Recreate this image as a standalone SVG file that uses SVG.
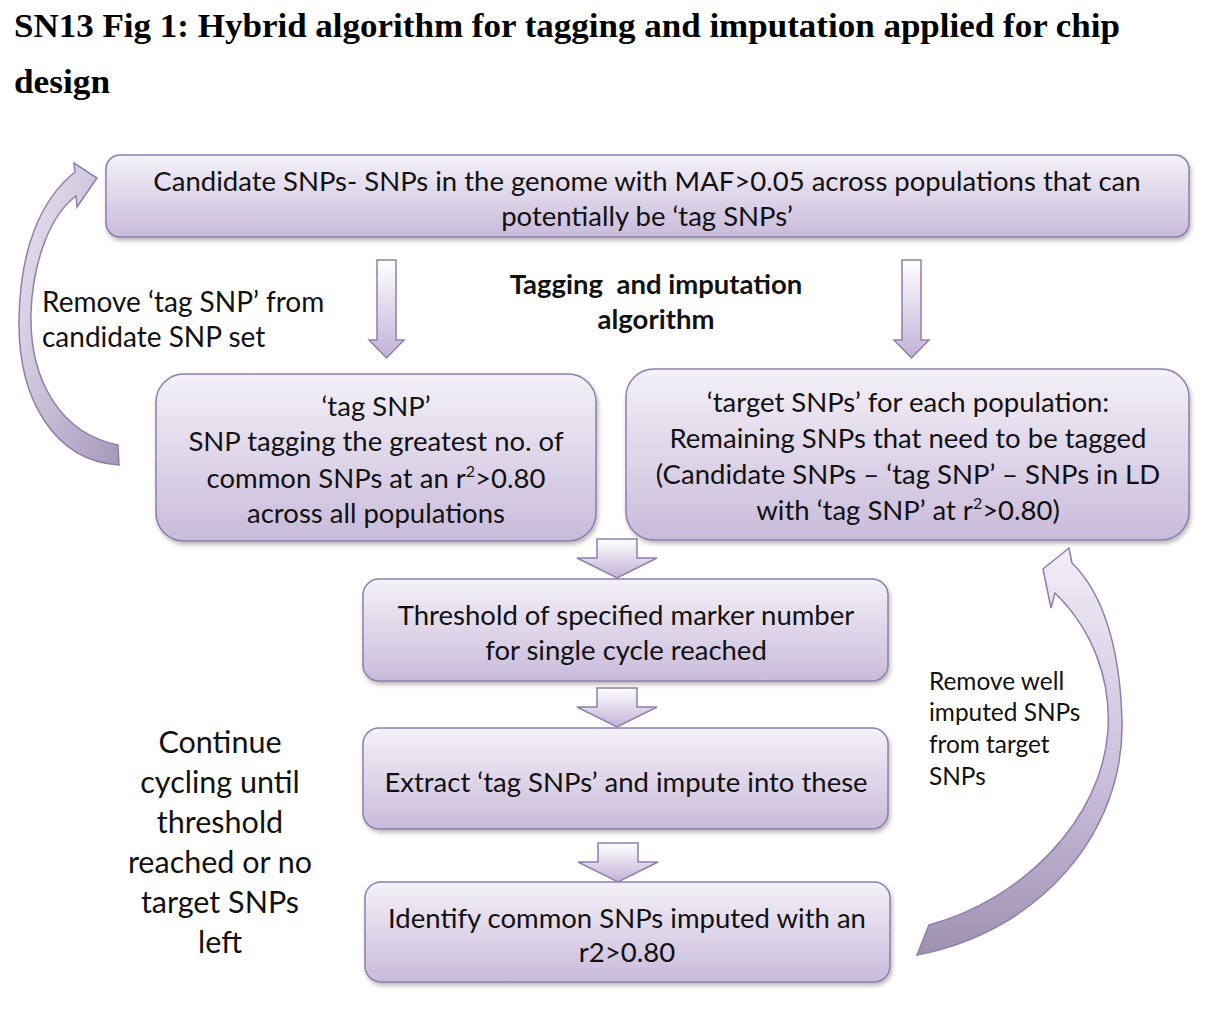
<svg xmlns="http://www.w3.org/2000/svg" width="1212" height="1018" viewBox="0 0 1212 1018">
<defs>
<linearGradient id="boxg" x1="0" y1="0" x2="0" y2="1">
<stop offset="0" stop-color="#f4f1f8"/>
<stop offset="1" stop-color="#c9bbdb"/>
</linearGradient>
<linearGradient id="arrg" x1="0" y1="0" x2="0" y2="1">
<stop offset="0" stop-color="#ffffff"/>
<stop offset="1" stop-color="#c2b2d6"/>
</linearGradient>
<linearGradient id="curvL" x1="0" y1="0" x2="1" y2="1">
<stop offset="0" stop-color="#ede7f4"/>
<stop offset="1" stop-color="#a699bb"/>
</linearGradient>
<linearGradient id="curvR" x1="0" y1="0" x2="0" y2="1">
<stop offset="0" stop-color="#f2eef7"/>
<stop offset="0.6" stop-color="#c8bbd9"/>
<stop offset="1" stop-color="#9e92b0"/>
</linearGradient>
<filter id="sh" x="-5%" y="-10%" width="110%" height="130%">
<feDropShadow dx="1.5" dy="3" stdDeviation="2" flood-color="#666" flood-opacity="0.45"/>
</filter>
</defs>
<style>
.box{fill:url(#boxg);stroke:#8f7fae;stroke-width:1.5;filter:url(#sh)}
.arr{fill:url(#arrg);stroke:#8f7fae;stroke-width:1.5}
.t{font-family:Lato,"Open Sans",sans-serif;font-size:27.5px;fill:#111;text-anchor:middle}
.tl{font-family:Lato,"Open Sans",sans-serif;font-size:28px;fill:#111}
.c{font-family:Lato,"Open Sans",sans-serif;font-size:30.5px;fill:#111;text-anchor:middle}
.w{font-family:Lato,"Open Sans",sans-serif;font-size:24.4px;fill:#111}
.title{font-family:"Liberation Serif","DejaVu Serif",serif;font-weight:bold;font-size:33px;fill:#000}
</style>
<rect width="1212" height="1018" fill="#fff"/>
<text class="title" x="14" y="37" textLength="1106" lengthAdjust="spacingAndGlyphs">SN13 Fig 1: Hybrid algorithm for tagging and imputation applied for chip</text>
<text class="title" x="14" y="93" textLength="96" lengthAdjust="spacingAndGlyphs">design</text>

<g id="connectors">
<path class="arr" d="M377,260 H396 V340 H404 L386.5,358 L369,340 H377 Z"/>
<path class="arr" d="M902,260 H921 V340 H929 L911.5,358 L894,340 H902 Z"/>
<path class="arr" d="M597,539 H637 V558 H657 L617,578 L577,558 H597 Z"/>
<path class="arr" d="M597,688 H637 V707 H657 L617,727 L577,707 H597 Z"/>
<path class="arr" d="M598,843 H638 V862 H658 L618,882 L578,862 H598 Z"/>
<path fill="url(#curvL)" stroke="#8f7fae" stroke-width="1.5" d="M75,172 L74,163 L97,178 L77,207 L76,196 C50,215 33,262 31,312 C29,382 62,434 118,445 L119,465 C55,461 18,400 19,320 C20,250 40,200 75,172 Z"/>
<path fill="url(#curvR)" stroke="#8f7fae" stroke-width="1.5" d="M1072,563 L1069,548 L1043,569 L1051,608 L1055,593 C1093,630 1111,680 1108,730 C1102,820 1022,900 929,925 L917,955 C1040,932 1125,832 1122,720 C1120,650 1104,594 1072,563 Z"/>
</g>

<g id="label-tagging">
<text class="t" x="656" y="294" font-weight="bold" style="white-space:pre" xml:space="preserve">Tagging  and imputation</text>
<text class="t" x="656" y="329" font-weight="bold">algorithm</text>
</g>
<g id="label-remove-tag">
<text class="tl" x="42" y="312">Remove ‘tag SNP’ from</text>
<text class="tl" x="42" y="347">candidate SNP set</text>
</g>
<g id="label-continue">
<text class="c" x="220" y="753">Continue</text>
<text class="c" x="220" y="793">cycling until</text>
<text class="c" x="220" y="833">threshold</text>
<text class="c" x="220" y="873">reached or no</text>
<text class="c" x="220" y="913">target SNPs</text>
<text class="c" x="220" y="953">left</text>
</g>
<g id="label-remove-well">
<text class="w" x="929" y="690">Remove well</text>
<text class="w" x="929" y="721">imputed SNPs</text>
<text class="w" x="929" y="753">from target</text>
<text class="w" x="929" y="785">SNPs</text>
</g>

<g id="node-candidate">
<rect class="box" x="106" y="155" width="1083" height="82" rx="14"/>
<text class="t" x="647" y="191">Candidate SNPs- SNPs in the genome with MAF&gt;0.05 across populations that can</text>
<text class="t" x="647" y="226">potentially be ‘tag SNPs’</text>
</g>
<g id="node-tagsnp">
<rect class="box" x="156" y="374" width="440" height="167" rx="28"/>
<text class="t" x="376" y="416">‘tag SNP’</text>
<text class="t" x="376" y="451">SNP tagging the greatest no. of</text>
<text class="t" x="376" y="488">common SNPs at an r<tspan font-size="16" dy="-11">2</tspan><tspan dy="11">&gt;0.80</tspan></text>
<text class="t" x="376" y="523">across all populations</text>
</g>
<g id="node-target">
<rect class="box" x="626" y="369" width="563" height="171" rx="28"/>
<text class="t" x="908" y="412">‘target SNPs’ for each population:</text>
<text class="t" x="908" y="448">Remaining SNPs that need to be tagged</text>
<text class="t" x="908" y="484">(Candidate SNPs – ‘tag SNP’ – SNPs in LD</text>
<text class="t" x="908" y="520">with ‘tag SNP’ at r<tspan font-size="16" dy="-11">2</tspan><tspan dy="11">&gt;0.80)</tspan></text>
</g>
<g id="node-threshold">
<rect class="box" x="363" y="579" width="525" height="102" rx="16"/>
<text class="t" x="626" y="625">Threshold of specified marker number</text>
<text class="t" x="626" y="660">for single cycle reached</text>
</g>
<g id="node-extract">
<rect class="box" x="363" y="728" width="525" height="101" rx="16"/>
<text class="t" x="626" y="792">Extract ‘tag SNPs’ and impute into these</text>
</g>
<g id="node-identify">
<rect class="box" x="365" y="882" width="525" height="100" rx="16"/>
<text class="t" x="627" y="928">Identify common SNPs imputed with an</text>
<text class="t" x="627" y="962">r2&gt;0.80</text>
</g>
</svg>
